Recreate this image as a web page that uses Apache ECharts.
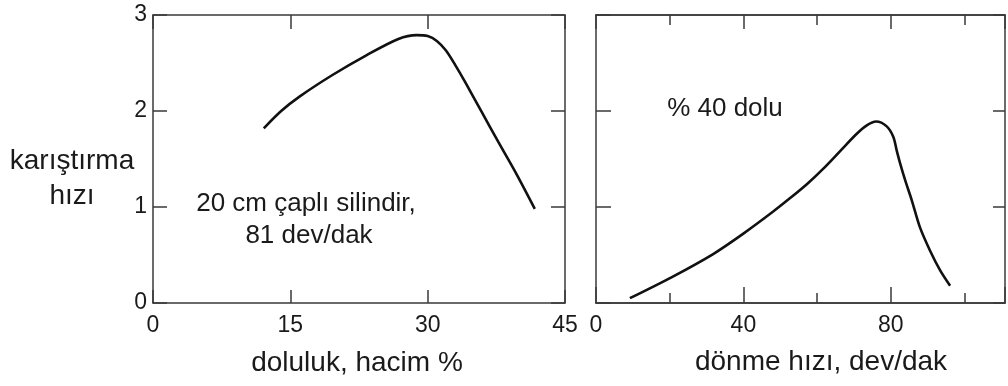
<!DOCTYPE html>
<html>
<head>
<meta charset="utf-8">
<script src="https://cdn.jsdelivr.net/npm/echarts@6/dist/echarts.min.js"></script>
<style>
html,body{margin:0;padding:0;background:#fff;}
#c{width:1008px;height:386px;}
</style>
</head>
<body>
<div id="c"></div>
<script>
// Left panel: doluluk (hacim %) vs karıştırma hızı
const leftX = [12.1, 14.0, 16.0, 19.6, 23.3, 26.8, 28.8, 30.0, 31.0, 32.0, 33.0, 34.1, 35.9, 37.7, 39.6, 41.7];
const leftY = [1.82, 2.00, 2.15, 2.375, 2.58, 2.75, 2.79, 2.78, 2.73, 2.63, 2.48, 2.30, 1.99, 1.68, 1.36, 0.98];
// Right panel: dönme hızı (dev/dak) vs karıştırma hızı
const rightX = [9.2, 20.6, 31.8, 39.9, 48.0, 52.6, 57.3, 61.7, 66.2, 70.7, 73.5, 76.0, 78.9, 80.7, 81.6, 82.5, 83.9, 85.7, 87.9, 90.6, 93.4, 96.1];
const rightY = [0.05, 0.27, 0.51, 0.72, 0.95, 1.09, 1.24, 1.40, 1.58, 1.76, 1.85, 1.89, 1.84, 1.73, 1.59, 1.46, 1.28, 1.07, 0.79, 0.55, 0.34, 0.18];
// Tick labels
const leftXTicks = [0, 15, 30, 45];
const rightXTicks = [0, 40, 80];
const leftYTicks = [0, 1, 2, 3];

const FONT = 'Liberation Sans, Arial, sans-serif';
const LINE = '#3a3a3a';
const TXT = '#1a1a1a';

function pairs(xs, ys){ return xs.map((x,i)=>[x, ys[i]]); }

function frameLine(){ return {show:true, onZero:false, lineStyle:{color:LINE, width:1.5}}; }
function tick(len){ return {show:true, inside:true, length:len, lineStyle:{color:LINE, width:1.5}}; }
const noLabel = {show:false};
function labelSet(list, margin){
  return {show:true, margin:margin, color:TXT, fontSize:23, fontFamily:FONT,
    showMinLabel:true, showMaxLabel:true, hideOverlap:false,
    formatter: v => (Math.abs(v - Math.round(v)) < 1e-6 && list.indexOf(Math.round(v)) >= 0) ? String(Math.round(v)) : ''};
}

const chart = echarts.init(document.getElementById('c'), null, {renderer:'canvas'});
const gridBase = {top:15, height:288, outerBoundsMode:'none', containLabel:false};
const option = {
  backgroundColor:'#fff',
  animation:false,
  grid:[
    Object.assign({left:153, width:412}, gridBase),
    Object.assign({left:596, width:409}, gridBase),
    Object.assign({left:596, width:409}, gridBase)
  ],
  xAxis:[
    {gridIndex:0, type:'value', position:'bottom', min:0, max:45, interval:15,
     axisLine:frameLine(), axisTick:tick(13), splitLine:{show:false}, axisLabel:labelSet(leftXTicks, 11)},
    {gridIndex:0, type:'value', position:'top', min:0, max:45, interval:15,
     axisLine:frameLine(), axisTick:tick(14), splitLine:{show:false}, axisLabel:noLabel},
    {gridIndex:1, type:'value', position:'bottom', min:0, max:111, interval:20,
     axisLine:frameLine(), axisTick:tick(10), splitLine:{show:false}, axisLabel:noLabel},
    {gridIndex:1, type:'value', position:'top', min:0, max:111, interval:20,
     axisLine:frameLine(), axisTick:tick(10), splitLine:{show:false}, axisLabel:noLabel},
    {gridIndex:2, type:'value', position:'bottom', min:0, max:111, interval:40,
     axisLine:frameLine(), axisTick:tick(16), splitLine:{show:false}, axisLabel:labelSet(rightXTicks, 11)},
    {gridIndex:2, type:'value', position:'top', min:0, max:111, interval:40,
     axisLine:frameLine(), axisTick:tick(14), splitLine:{show:false}, axisLabel:noLabel}
  ],
  yAxis:[
    {gridIndex:0, type:'value', position:'left', min:0, max:3, interval:1,
     axisLine:frameLine(), axisTick:tick(14), splitLine:{show:false}, axisLabel:labelSet(leftYTicks, 6)},
    {gridIndex:0, type:'value', position:'right', min:0, max:3, interval:1,
     axisLine:frameLine(), axisTick:tick(14), splitLine:{show:false}, axisLabel:noLabel},
    {gridIndex:1, type:'value', position:'left', min:0, max:3, interval:1,
     axisLine:frameLine(), axisTick:tick(15), splitLine:{show:false}, axisLabel:noLabel},
    {gridIndex:1, type:'value', position:'right', min:0, max:3, interval:1,
     axisLine:frameLine(), axisTick:tick(12), splitLine:{show:false}, axisLabel:noLabel},
    {gridIndex:2, type:'value', show:false, min:0, max:3, interval:1}
  ],
  series:[
    {type:'line', xAxisIndex:0, yAxisIndex:0, data:pairs(leftX, leftY), showSymbol:false,
     smooth:0.3, lineStyle:{color:'#111', width:2.6}, silent:true},
    {type:'line', xAxisIndex:2, yAxisIndex:2, data:pairs(rightX, rightY), showSymbol:false,
     smooth:0.3, lineStyle:{color:'#111', width:2.6}, silent:true}
  ],
  graphic:[
    {type:'text', x:72, y:161, style:{text:'karıştırma', fontSize:28, fontFamily:FONT, fill:TXT, textAlign:'center', textVerticalAlign:'middle'}},
    {type:'text', x:72, y:196, style:{text:'hızı', fontSize:28, fontFamily:FONT, fill:TXT, textAlign:'center', textVerticalAlign:'middle'}},
    {type:'text', x:306, y:204, style:{text:'20 cm çaplı silindir,', fontSize:26, fontFamily:FONT, fill:TXT, textAlign:'center', textVerticalAlign:'middle'}},
    {type:'text', x:309, y:236, style:{text:'81 dev/dak', fontSize:26, fontFamily:FONT, fill:TXT, textAlign:'center', textVerticalAlign:'middle'}},
    {type:'text', x:725, y:109, style:{text:'% 40 dolu', fontSize:26, fontFamily:FONT, fill:TXT, textAlign:'center', textVerticalAlign:'middle'}},
    {type:'text', x:357, y:363, style:{text:'doluluk, hacim %', fontSize:28, fontFamily:FONT, fill:TXT, textAlign:'center', textVerticalAlign:'middle'}},
    {type:'text', x:821, y:362, style:{text:'dönme hızı, dev/dak', fontSize:28, fontFamily:FONT, fill:TXT, textAlign:'center', textVerticalAlign:'middle'}}
  ]
};
chart.setOption(option);
</script>
</body>
</html>
